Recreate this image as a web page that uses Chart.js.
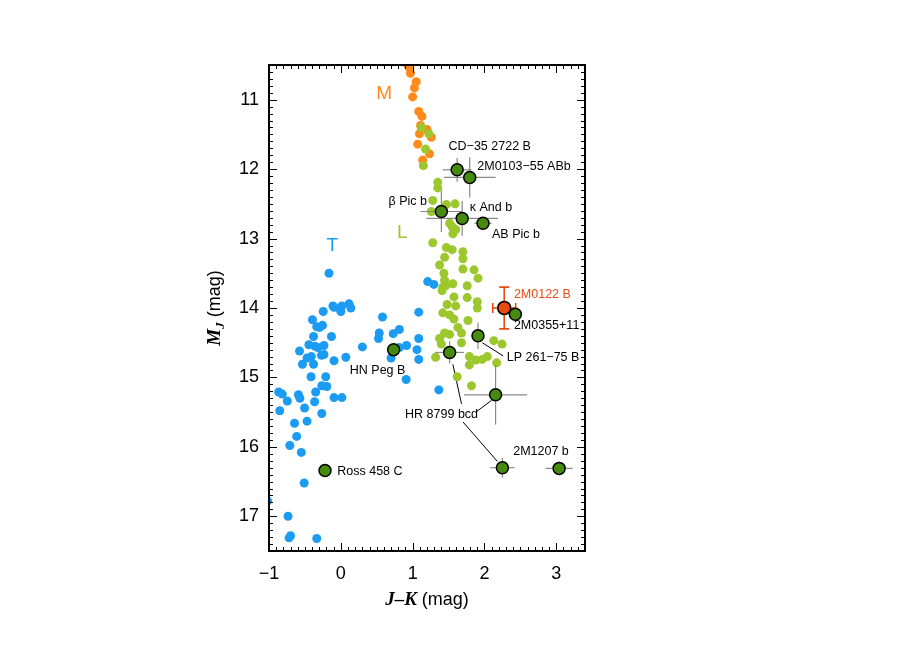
<!DOCTYPE html>
<html>
<head>
<meta charset="utf-8">
<style>
  html, body { margin: 0; padding: 0; background: #fff; }
  #chart { display: block; }
</style>
</head>
<body>
<canvas id="chart" width="900" height="650"></canvas>
<script src="https://cdn.jsdelivr.net/npm/chart.js"></script>
<script>
// field M dwarfs
const mX = [0.93, 0.96, 0.97, 1.05, 1.025, 1.0, 1.085, 1.13, 1.11, 1.2, 1.095, 1.26, 1.07, 1.235, 1.14];
const mY = [10.5, 10.55, 10.62, 10.74, 10.83, 10.96, 11.17, 11.24, 11.37, 11.43, 11.49, 11.54, 11.64, 11.78, 11.87];

// field L dwarfs
const lX = [1.12, 1.225, 1.18, 1.15, 1.35, 1.35, 1.28, 1.47, 1.59, 1.26, 1.515, 1.55, 1.6, 1.56,
  1.28, 1.47, 1.55, 1.70, 1.445, 1.70, 1.375, 1.70, 1.435, 1.855, 1.445, 1.91, 1.56, 1.46, 1.42,
  1.76, 1.41, 1.575, 1.76, 1.90, 1.48, 1.60, 1.90, 1.42, 1.515, 1.575, 1.77, 1.63, 1.445, 1.515,
  1.68, 1.375, 2.13, 1.40, 1.68, 2.245, 1.32, 1.79, 1.88, 1.97, 2.04, 1.79, 2.17, 1.62, 1.82];
const lY = [11.40, 11.49, 11.71, 11.95, 12.19, 12.27, 12.45, 12.51, 12.50, 12.61, 12.78, 12.83, 12.87, 12.93,
  13.06, 13.13, 13.16, 13.19, 13.27, 13.29, 13.38, 13.44, 13.50, 13.45, 13.60, 13.57, 13.65, 13.68, 13.70,
  13.68, 13.75, 13.84, 13.85, 13.91, 13.95, 13.97, 14.0, 14.07, 14.10, 14.16, 14.18, 14.28, 14.36, 14.38,
  14.36, 14.44, 14.47, 14.52, 14.50, 14.52, 14.71, 14.70, 14.75, 14.74, 14.70, 14.82, 14.79, 14.99, 15.12];

// field T dwarfs
const tX = [-0.165, -0.11, 0.015, 0.115, 0.14, 0.0, -0.095, -0.245, -0.395, -0.335, -0.255, -0.295, -0.38, -0.13,
  -0.445, -0.36, -0.32, -0.235, -0.575, -0.41, -0.47, -0.27, -0.235, -0.095, 0.07, -0.535, -0.38, -0.415,
  -0.21, -0.265, -0.195, -0.35, -0.865, -0.815, -0.59, -0.57, -0.095, 0.015, -0.745, -0.365, -0.505, -0.85,
  -0.265, -0.47, -0.645, -0.615, -0.71, -0.55, -0.51, -1.02, -0.735, -0.72, -0.70, -0.335,
  0.58, 0.535, 0.525, 0.73, 0.815, 0.30, 0.815, 0.915, 1.085, 1.06, 1.085, 0.70, 0.91, 1.085, 1.21, 1.295, 1.365];
const tY = [13.50, 13.97, 13.97, 13.94, 14.0, 14.05, 13.99, 14.05, 14.17, 14.27, 14.25, 14.28, 14.41, 14.41,
  14.53, 14.55, 14.57, 14.54, 14.62, 14.70, 14.72, 14.68, 14.67, 14.76, 14.71, 14.81, 14.81, 14.99,
  14.99, 15.12, 15.13, 15.21, 15.21, 15.24, 15.25, 15.30, 15.29, 15.29, 15.34, 15.35, 15.44, 15.48,
  15.52, 15.63, 15.66, 15.85, 15.98, 16.08, 16.52, 16.78, 17.0, 17.31, 17.28, 17.32,
  14.13, 14.36, 14.44, 14.37, 14.31, 14.56, 14.57, 14.54, 14.44, 14.60, 14.74, 14.72, 15.03, 14.06, 13.62, 13.66, 15.18];

// young / companion objects
const spNames = ['CD\u221235 2722 B', '2M0103\u221255 ABb', '\u03b2 Pic b', '\u03ba And b', 'AB Pic b', '2M0355+11',
  'LP 261\u221275 B', 'HN Peg B', 'HR 8799 c', 'HR 8799 b', 'HR 8799 d', '2M1207 b', 'Ross 458 C'];
const spX = [1.62, 1.795, 1.40, 1.69, 1.98, 2.43, 1.91, 0.735, 1.515, 2.155, 2.25, 3.04, -0.22];
const spY = [12.01, 12.12, 12.61, 12.71, 12.78, 14.09, 14.40, 14.60, 14.64, 15.25, 16.30, 16.31, 16.34];
const spXerr = [0.2, 0.36, 0.29, 0.5, 0.12, 0, 0.05, 0, 0.2, 0.44, 0.17, 0.19, 0];
const spYerr = [0.17, 0.29, 0.3, 0.25, 0.07, 0, 0.19, 0, 0.16, 0.43, 0.14, 0.1, 0];

// 2M0122 B
const rX = [2.275];
const rY = [14.0];
const rXerr = [0.16];
const rYerr = [0.3];

// text labels (left edge, middle)
const labelText = ['CD\u221235 2722 B', '2M0103\u221255 ABb', '\u03b2 Pic b', '\u03ba And b', 'AB Pic b', '2M0122 B',
  '2M0355+11', 'LP 261\u221275 B', 'HN Peg B', 'HR 8799 bcd', '2M1207 b', 'Ross 458 C'];
const labelX = [1.50, 1.90, 0.665, 1.795, 2.105, 2.41, 2.41, 2.31, 0.125, 0.895, 2.40, -0.05];
const labelY = [11.68, 11.96, 12.47, 12.56, 12.94, 13.81, 14.25, 14.71, 14.90, 15.54, 16.07, 16.35];

// leader lines
const leadX1 = [1.97, 1.56, 2.10, 2.18];
const leadY1 = [14.50, 14.81, 15.33, 16.21];
const leadX2 = [2.26, 1.68, 1.88, 1.70];
const leadY2 = [14.69, 15.38, 15.50, 15.64];

// spectral type labels
const typeText = ['M', 'L', 'T'];
const typeX = [0.605, 0.855, -0.12];
const typeY = [10.91, 12.91, 13.10];

const xTicks = [-1, 0, 1, 2, 3];
const yTicks = [11, 12, 13, 14, 15, 16, 17];

const cOrange = '#ff8a1c';
const cGreen = '#9cc82e';
const cBlue = '#1b9cf2';
const cDark = '#468a0e';
const cRed = '#e84a14';
const SANS = '"Liberation Sans", Arial, Helvetica, sans-serif';
const SERIF = '"Liberation Serif", "Times New Roman", serif';

const pts = (xs, ys) => xs.map((x, i) => ({ x: x, y: ys[i] }));

const decor = {
  id: 'decor',
  beforeDatasetsDraw(chart) {
    const ctx = chart.ctx, xs = chart.scales.x, ys = chart.scales.y, a = chart.chartArea;
    ctx.save();
    ctx.beginPath();
    ctx.rect(a.left, a.top, a.right - a.left, a.bottom - a.top);
    ctx.clip();
    ctx.strokeStyle = '#000';
    ctx.lineWidth = 1;
    leadX1.forEach((x, i) => {
      ctx.beginPath();
      ctx.moveTo(xs.getPixelForValue(x), ys.getPixelForValue(leadY1[i]));
      ctx.lineTo(xs.getPixelForValue(leadX2[i]), ys.getPixelForValue(leadY2[i]));
      ctx.stroke();
    });
    ctx.restore();
  },
  beforeDatasetDraw(chart, args) {
    const ctx = chart.ctx, xs = chart.scales.x, ys = chart.scales.y;
    let X, Y, EX, EY, col, caps;
    if (args.index === 3) { X = spX; Y = spY; EX = spXerr; EY = spYerr; col = '#8a8a8a'; caps = false; }
    else if (args.index === 4) { X = rX; Y = rY; EX = rXerr; EY = rYerr; col = cRed; caps = true; }
    else return;
    ctx.save();
    ctx.strokeStyle = col;
    ctx.lineWidth = caps ? 1.6 : 1.2;
    X.forEach((x, i) => {
      const px = xs.getPixelForValue(x), py = ys.getPixelForValue(Y[i]);
      if (EX[i] > 0) {
        const l = xs.getPixelForValue(x - EX[i]), r = xs.getPixelForValue(x + EX[i]);
        ctx.beginPath(); ctx.moveTo(l, py); ctx.lineTo(r, py); ctx.stroke();
        if (caps) {
          ctx.beginPath();
          ctx.moveTo(l, py - 5); ctx.lineTo(l, py + 5);
          ctx.moveTo(r, py - 5); ctx.lineTo(r, py + 5);
          ctx.stroke();
        }
      }
      if (EY[i] > 0) {
        const t = ys.getPixelForValue(Y[i] - EY[i]), b = ys.getPixelForValue(Y[i] + EY[i]);
        ctx.beginPath(); ctx.moveTo(px, t); ctx.lineTo(px, b); ctx.stroke();
        if (caps) {
          ctx.beginPath();
          ctx.moveTo(px - 5, t); ctx.lineTo(px + 5, t);
          ctx.moveTo(px - 5, b); ctx.lineTo(px + 5, b);
          ctx.stroke();
        }
      }
    });
    ctx.restore();
  },
  afterDraw(chart) {
    const ctx = chart.ctx, xs = chart.scales.x, ys = chart.scales.y, a = chart.chartArea;
    ctx.save();
    // labels
    ctx.textBaseline = 'middle';
    ctx.textAlign = 'left';
    ctx.font = '12.5px ' + SANS;
    labelText.forEach((t, i) => {
      ctx.fillStyle = t === '2M0122 B' ? cRed : '#000';
      ctx.fillText(t, xs.getPixelForValue(labelX[i]), ys.getPixelForValue(labelY[i]));
    });
    ctx.textAlign = 'center';
    ctx.font = '19px ' + SANS;
    const tc = [cOrange, cGreen, cBlue];
    typeText.forEach((t, i) => {
      ctx.fillStyle = tc[i];
      ctx.fillText(t, xs.getPixelForValue(typeX[i]), ys.getPixelForValue(typeY[i]));
    });

    // frame and inward ticks
    ctx.strokeStyle = '#000';
    ctx.lineWidth = 1;
    ctx.beginPath();
    for (let k = -10; k <= 34; k++) {
      const p = Math.round(xs.getPixelForValue(k / 10)) + 0.5;
      const len = k % 10 === 0 ? 8 : 4;
      ctx.moveTo(p, a.bottom); ctx.lineTo(p, a.bottom - len);
      ctx.moveTo(p, a.top); ctx.lineTo(p, a.top + len);
    }
    for (let k = 105; k <= 175; k++) {
      const p = Math.round(ys.getPixelForValue(k / 10)) + 0.5;
      const len = k % 10 === 0 ? 8 : 4;
      ctx.moveTo(a.left, p); ctx.lineTo(a.left + len, p);
      ctx.moveTo(a.right, p); ctx.lineTo(a.right - len, p);
    }
    ctx.stroke();
    ctx.lineWidth = 2;
    ctx.strokeRect(a.left, a.top, a.right - a.left, a.bottom - a.top);

    // axis titles
    ctx.fillStyle = '#000';
    ctx.textAlign = 'left';
    ctx.textBaseline = 'alphabetic';
    const f1 = 'italic bold 19px ' + SERIF, f2 = '18px ' + SANS;
    ctx.font = f1; const w1 = ctx.measureText('J\u2013K').width;
    ctx.font = f2; const w2 = ctx.measureText(' (mag)').width;
    let x0 = (a.left + a.right) / 2 - (w1 + w2) / 2;
    ctx.font = f1; ctx.fillText('J\u2013K', x0, 605);
    ctx.font = f2; ctx.fillText(' (mag)', x0 + w1, 605);

    ctx.translate(220, (a.top + a.bottom) / 2);
    ctx.rotate(-Math.PI / 2);
    const fs = 'italic bold 13px ' + SERIF;
    ctx.font = f1; const m1 = ctx.measureText('M').width;
    ctx.font = fs; const m2 = ctx.measureText('J').width;
    ctx.font = f2; const m3 = ctx.measureText(' (mag)').width;
    x0 = -(m1 + m2 + m3) / 2;
    ctx.font = f1; ctx.fillText('M', x0, 0);
    ctx.font = fs; ctx.fillText('J', x0 + m1, 4);
    ctx.font = f2; ctx.fillText(' (mag)', x0 + m1 + m2, 0);
    ctx.restore();
  }
};

new Chart(document.getElementById('chart'), {
  type: 'scatter',
  data: {
    datasets: [
      { label: 'M', data: pts(mX, mY), backgroundColor: cOrange, pointRadius: 4.5, pointBorderWidth: 0, order: 5 },
      { label: 'L', data: pts(lX, lY), backgroundColor: cGreen, pointRadius: 4.5, pointBorderWidth: 0, order: 4 },
      { label: 'T', data: pts(tX, tY), backgroundColor: cBlue, pointRadius: 4.5, pointBorderWidth: 0, order: 3 },
      { label: 'young', data: pts(spX, spY), backgroundColor: cDark, borderColor: '#000', pointRadius: 6, pointBorderWidth: 1.5, order: 1 },
      { label: '2M0122 B', data: pts(rX, rY), backgroundColor: cRed, borderColor: '#000', pointRadius: 6.5, pointBorderWidth: 1.5, order: 2 }
    ]
  },
  options: {
    responsive: false,
    animation: false,
    layout: { padding: { left: 0, top: 65, right: 315, bottom: 0 } },
    plugins: { legend: { display: false }, tooltip: { enabled: false } },
    scales: {
      x: {
        type: 'linear', min: -1, max: 3.4,
        afterFit: s => { s.height = 99; },
        afterBuildTicks: s => { s.ticks = xTicks.map(v => ({ value: v })); },
        grid: { drawOnChartArea: false, drawTicks: false },
        border: { display: false },
        ticks: { padding: 12, color: '#000', font: { size: 18, family: SANS },
          callback: v => String(v).replace('-', '\u2212') }
      },
      y: {
        type: 'linear', min: 10.5, max: 17.5, reverse: true,
        afterFit: s => { s.width = 269; },
        afterBuildTicks: s => { s.ticks = yTicks.map(v => ({ value: v })); },
        grid: { drawOnChartArea: false, drawTicks: false },
        border: { display: false },
        ticks: { padding: 10, color: '#000', font: { size: 18, family: SANS } }
      }
    }
  },
  plugins: [decor]
});
</script>
</body>
</html>
